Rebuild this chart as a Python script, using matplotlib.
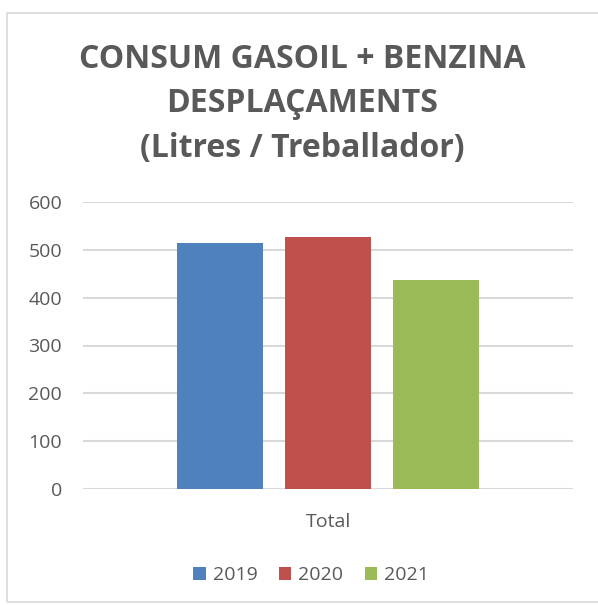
import matplotlib.pyplot as plt
from matplotlib.patches import Rectangle
import numpy as np

years = ['2019', '2020', '2021']
values = [515, 527, 437]
colors = ['#4f81bd', '#c0504d', '#9bbb59']
category = 'Total'
title = 'CONSUM GASOIL + BENZINA\nDESPLAÇAMENTS\n(Litres / Treballador)'

plt.rcParams['font.family'] = ['Open Sans', 'DejaVu Sans']
grey = '#595959'

fig = plt.figure(figsize=(5.98, 6.05), dpi=100)
fig.patches.append(Rectangle((7 / 598, 0.005), 1.2, 1 - 13 / 605 - 0.005,
                             transform=fig.transFigure, fill=False,
                             edgecolor='#d9d9d9', linewidth=1.2))
ax = fig.add_axes([83 / 598, 1 - 489 / 605, 490 / 598, 287 / 605])

pos = np.arange(len(years)) - 1
for p, v, c, y in zip(pos, values, colors, years):
    ax.bar(p, v, width=86 / 108, color=c, label=y, zorder=3)

ax.set_xlim(-245 / 108, 245 / 108)
ax.set_ylim(0, 600)
ax.set_yticks(range(0, 601, 100))
ax.yaxis.grid(True, color='#d9d9d9', linewidth=1.5, zorder=0)
ax.set_xticks([0])
ax.set_xticklabels([category])
for s in ax.spines.values():
    s.set_visible(False)
ax.tick_params(axis='both', length=0, colors=grey, labelsize=14)
ax.tick_params(axis='y', pad=15)
ax.tick_params(axis='x', pad=17)

fig.text(0.505, 1 - 104 / 605, title, ha='center', va='center',
         fontsize=23, fontweight='bold', color=grey, linespacing=1.48)

fig.legend(loc='center', bbox_to_anchor=(0.52, 1 - 575 / 605), ncol=3,
           frameon=False, fontsize=14, labelcolor=grey, handlelength=0.65,
           handleheight=0.65, handletextpad=0.35, columnspacing=1.1)

fig.savefig('out.png', dpi=100)
